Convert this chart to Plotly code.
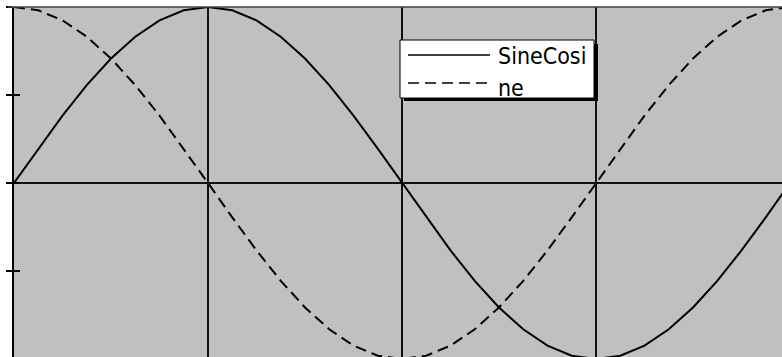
import plotly.graph_objects as go

# sample index (step of pi/16 over one full period)
x_idx = [0, 1, 2, 3, 4, 5, 6, 7, 8, 9, 10, 11, 12, 13, 14, 15, 16,
         17, 18, 19, 20, 21, 22, 23, 24, 25, 26, 27, 28, 29, 30, 31, 32]
sine_vals = [0.0, 0.195, 0.383, 0.556, 0.707, 0.831, 0.924, 0.981, 1.0,
             0.981, 0.924, 0.831, 0.707, 0.556, 0.383, 0.195, 0.0,
             -0.195, -0.383, -0.556, -0.707, -0.831, -0.924, -0.981, -1.0,
             -0.981, -0.924, -0.831, -0.707, -0.556, -0.383, -0.195, 0.0]
cosine_vals = [1.0, 0.981, 0.924, 0.831, 0.707, 0.556, 0.383, 0.195, 0.0,
               -0.195, -0.383, -0.556, -0.707, -0.831, -0.924, -0.981, -1.0,
               -0.981, -0.924, -0.831, -0.707, -0.556, -0.383, -0.195, 0.0,
               0.195, 0.383, 0.556, 0.707, 0.831, 0.924, 0.981, 1.0]
series_names = ["SineCosi", "ne"]
y_ticks = [-1, -0.5, 0, 0.5, 1]

W, H = 782, 357
L, T = 14, 7
plot_w = W - L
plot_h = H - T

DASH = "11px,6px"

fig = go.Figure()
fig.add_trace(go.Scatter(x=x_idx, y=sine_vals, mode="lines", name=series_names[0],
                         line=dict(color="black", width=2), showlegend=False))
fig.add_trace(go.Scatter(x=x_idx, y=cosine_vals, mode="lines", name=series_names[1],
                         line=dict(color="black", width=2, dash=DASH), showlegend=False))
# invisible trace to drive the overlaid (inside-tick) y axis
fig.add_trace(go.Scatter(x=[0], y=[0], yaxis="y2", mode="lines", showlegend=False,
                         hoverinfo="skip", line=dict(width=0)))

px_per_x = 194 / 8
px_per_y = 176
x_max = plot_w / px_per_x
y_min = -(plot_h - px_per_y) / px_per_y


def px(xp):
    return (xp - L) / plot_w


def py(yp):
    return 1 - (yp - T) / plot_h


# legend geometry (pixels)
box = dict(x0=400, x1=594, y0=40, y1=98)
sample_x0, sample_x1 = 408, 490
rows_line_y = [55, 83]
rows_text_y = [56, 88]
text_x = 496
row_dash = ["solid", DASH]

shapes = [
    # top border of plot area
    dict(type="line", xref="paper", yref="paper", x0=px(8), x1=1,
         y0=1, y1=1, line=dict(color="#404040", width=1.5)),
    # legend drop shadow
    dict(type="rect", xref="paper", yref="paper", layer="above",
         x0=px(box["x0"] + 4), x1=px(box["x1"] + 4),
         y0=py(box["y1"] + 3), y1=py(box["y0"] + 4),
         fillcolor="black", line=dict(width=0)),
    # legend box
    dict(type="rect", xref="paper", yref="paper", layer="above",
         x0=px(box["x0"]), x1=px(box["x1"]),
         y0=py(box["y1"]), y1=py(box["y0"]),
         fillcolor="white", line=dict(color="black", width=1)),
]
annotations = []
for name, ly, ty, dsh in zip(series_names, rows_line_y, rows_text_y, row_dash):
    shapes.append(dict(type="line", xref="paper", yref="paper", layer="above",
                       x0=px(sample_x0), x1=px(sample_x1), y0=py(ly), y1=py(ly),
                       line=dict(color="black", width=1.5, dash=dsh)))
    annotations.append(dict(text=name, xref="paper", yref="paper",
                            x=px(text_x), y=py(ty), xanchor="left", yanchor="middle",
                            showarrow=False,
                            font=dict(family="DejaVu Sans Condensed", size=23,
                                      color="black")))

fig.update_layout(
    width=W, height=H,
    margin=dict(l=L, r=0, t=T, b=0, pad=0),
    paper_bgcolor="white",
    plot_bgcolor="#C0C0C0",
    showlegend=False,
    hovermode=False,
    xaxis=dict(range=[0, x_max], showticklabels=False, showgrid=True, dtick=8,
               tick0=0, gridcolor="#111111", gridwidth=2, zeroline=False,
               showline=False, ticks=""),
    yaxis=dict(range=[y_min, 1], tickvals=y_ticks, showticklabels=False,
               showgrid=False, zeroline=True, zerolinecolor="#111111",
               zerolinewidth=1.5, showline=True, linecolor="black", linewidth=2,
               ticks="outside", ticklen=6, tickcolor="black", tickwidth=1.5),
    yaxis2=dict(range=[y_min, 1], overlaying="y", side="left", anchor="x",
                tickvals=y_ticks, showticklabels=False, showgrid=False,
                zeroline=False, showline=False, ticks="inside", ticklen=6,
                tickcolor="black", tickwidth=1.5),
    shapes=shapes,
    annotations=annotations,
)

fig.write_html("out.html", config={"displayModeBar": False},
               post_script="document.body.style.margin='0';")
